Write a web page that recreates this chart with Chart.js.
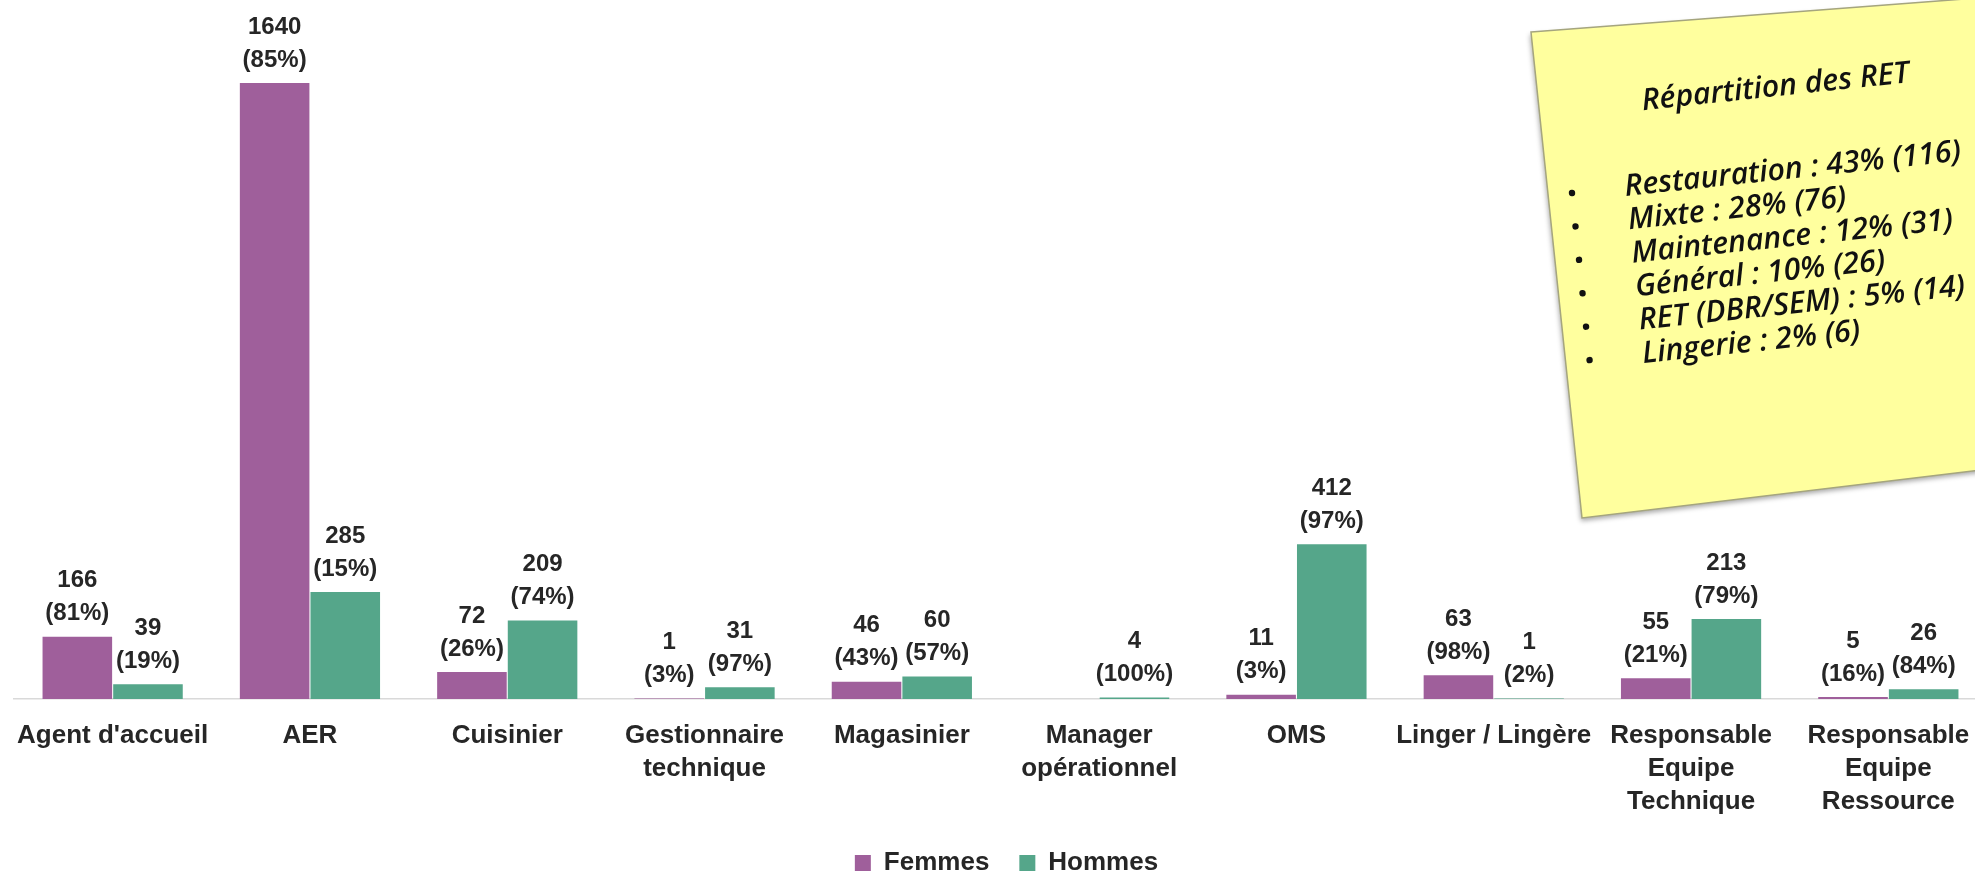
<!DOCTYPE html>
<html>
<head>
<meta charset="utf-8">
<script src="https://cdn.jsdelivr.net/npm/chart.js@4.4.1/dist/chart.umd.min.js"></script>
<style>
  html, body { margin: 0; padding: 0; background: #ffffff; overflow: hidden; }
  #wrap { width: 1975px; height: 874px; overflow: hidden; position: relative; }
  canvas { display: block; }
</style>
</head>
<body>
<div id="wrap"><canvas id="c" width="2012" height="890" style="width:2012px;height:890px"></canvas></div>
<script>
// ---- data ----
const categories = ["Agent d'accueil", "AER", "Cuisinier", ["Gestionnaire", "technique"], "Magasinier",
  ["Manager", "opérationnel"], "OMS", "Linger / Lingère", ["Responsable", "Equipe", "Technique"],
  ["Responsable", "Equipe", "Ressource"]];
const seriesNames = ["Femmes", "Hommes"];
const femmes = [166, 1640, 72, 1, 46, null, 11, 63, 55, 5];
const hommes = [39, 285, 209, 31, 60, 4, 412, 1, 213, 26];
const femmesPct = [81, 85, 26, 3, 43, null, 3, 98, 21, 16];
const hommesPct = [19, 15, 74, 97, 57, 100, 97, 2, 79, 84];
const noteTitle = "Répartition des RET";
const noteItems = ["Restauration : 43% (116)", "Mixte : 28% (76)", "Maintenance : 12% (31)",
  "Général : 10% (26)", "RET (DBR/SEM) : 5% (14)", "Lingerie : 2% (6)"];
const yMax = 1800;

const colF = '#9F5F9B';
const colH = '#55A68A';
const textCol = '#262626';
const FONT = '"Liberation Sans", Arial, sans-serif';

const labelPlugin = {
  id: 'valueLabels',
  afterDatasetsDraw(chart) {
    const ctx = chart.ctx;
    const pcts = [femmesPct, hommesPct];
    ctx.save();
    ctx.font = 'bold 24px ' + FONT;
    ctx.fillStyle = textCol;
    ctx.textAlign = 'center';
    ctx.textBaseline = 'middle';
    chart.data.datasets.forEach((ds, di) => {
      const meta = chart.getDatasetMeta(di);
      meta.data.forEach((bar, i) => {
        const v = ds.data[i];
        if (v === null || v === undefined) return;
        ctx.fillText(String(v), bar.x, bar.y - 56);
        ctx.fillText('(' + pcts[di][i] + '%)', bar.x, bar.y - 23);
      });
    });
    ctx.restore();
  }
};

const legendShift = {
  id: 'legendShift',
  afterLayout(chart) {
    if (chart.legend) { chart.legend.left += 6; chart.legend.right += 6; }
  }
};

const notePlugin = {
  id: 'note',
  afterDraw(chart) {
    const ctx = chart.ctx;
    ctx.save();
    ctx.beginPath();
    ctx.moveTo(1531, 32);
    ctx.lineTo(2030, -6);
    ctx.lineTo(2030, 464);
    ctx.lineTo(1582, 518);
    ctx.closePath();
    ctx.shadowColor = 'rgba(0,0,0,0.35)';
    ctx.shadowBlur = 5;
    ctx.shadowOffsetX = -1;
    ctx.shadowOffsetY = 3;
    ctx.fillStyle = '#FFFF9E';
    ctx.fill();
    ctx.shadowColor = 'rgba(0,0,0,0)';
    ctx.strokeStyle = '#A5A57E';
    ctx.lineWidth = 1.5;
    ctx.stroke();

    ctx.translate(1572, 193);
    ctx.rotate(-6 * Math.PI / 180);
    const fam = '"Open Sans", "Lato", sans-serif';
    ctx.font = 'italic 600 24px ' + fam;
    const w = ctx.measureText(noteItems[0]).width;
    const size = 24 * 338 / w;
    ctx.font = 'italic 600 ' + size.toFixed(1) + 'px ' + fam;
    ctx.fillStyle = '#111111';
    ctx.textAlign = 'left';
    ctx.textBaseline = 'alphabetic';
    ctx.fillText(noteTitle, 79, -75);
    noteItems.forEach((t, k) => {
      const v = k * 33.6;
      ctx.beginPath();
      ctx.arc(0, v, 3.2, 0, Math.PI * 2);
      ctx.fill();
      ctx.fillText(t, 53, v + 8.5);
    });
    ctx.restore();
  }
};

new Chart(document.getElementById('c'), {
  type: 'bar',
  data: {
    labels: categories,
    datasets: [
      { label: seriesNames[0], data: femmes, backgroundColor: colF, categoryPercentage: 0.716, barPercentage: 0.985 },
      { label: seriesNames[1], data: hommes, backgroundColor: colH, categoryPercentage: 0.716, barPercentage: 0.985 }
    ]
  },
  options: {
    responsive: false,
    animation: false,
    devicePixelRatio: 1,
    layout: { padding: { left: 14, right: 25, top: 23, bottom: 4 } },
    plugins: {
      legend: {
        position: 'bottom',
        labels: {
          boxWidth: 16, boxHeight: 16, padding: 30, color: textCol,
          font: { family: FONT, weight: 'bold', size: 26 }
        }
      },
      tooltip: { enabled: false }
    },
    scales: {
      x: {
        afterFit(scale) { scale.height = 121; scale.paddingLeft = 0; scale.paddingRight = 0; },
        grid: { display: false, drawTicks: false },
        border: { display: true, color: '#D9D9D9', width: 1.5 },
        ticks: {
          color: textCol, maxRotation: 0, minRotation: 0, autoSkip: false, padding: 20.5,
          font: { family: FONT, weight: 'bold', size: 26, lineHeight: 1.27 }
        }
      },
      y: { display: false, min: 0, max: yMax }
    }
  },
  plugins: [labelPlugin, legendShift, notePlugin]
});
</script>
</body>
</html>
